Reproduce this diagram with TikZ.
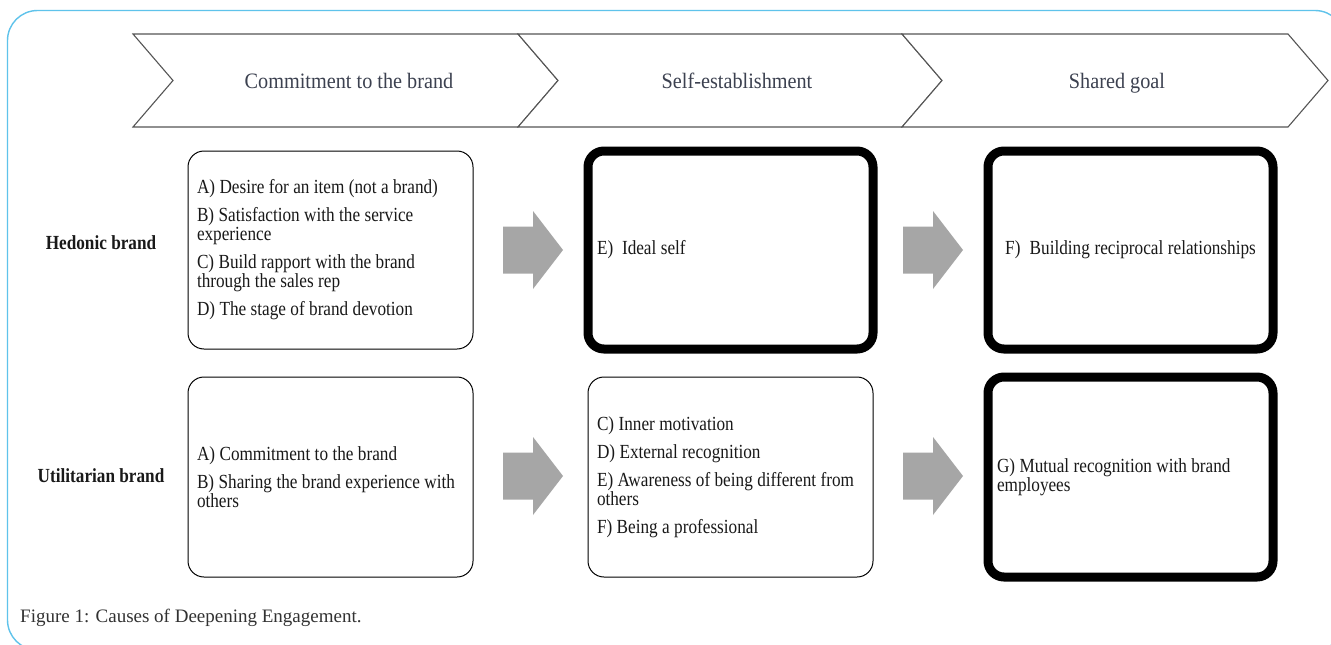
\documentclass[tikz,border=0pt]{standalone}
\usepackage{fontspec}
\setmainfont{Liberation Serif}
\newfontfamily\bxf[FakeStretch=0.86]{Liberation Serif}
\newfontfamily\chf[FakeStretch=0.92]{Liberation Serif}
\newcommand\boxtxt{\bxf\fontsize{20}{19}\selectfont\lineskiplimit=-100pt\relax}
\newcommand\tightsp{\spaceskip=4.4pt plus 1pt minus 0.5pt\xspaceskip=4.4pt plus 1pt minus 0.5pt\relax}
\newcommand\labtxt{\bxf\bfseries\fontsize{20}{24}\selectfont}
\newcommand\chevtxt{\chf\fontsize{22}{26}\selectfont}
\newcommand\captxt{\fontsize{19}{23}\selectfont}
\definecolor{framecol}{RGB}{95,195,235}
\definecolor{chevline}{RGB}{85,85,85}
\definecolor{chevtextcol}{RGB}{60,65,80}
\definecolor{boxtextcol}{RGB}{25,25,25}
\definecolor{arrowgray}{RGB}{166,166,166}
\definecolor{capcol}{RGB}{50,50,50}
\begin{document}
\begin{tikzpicture}[x=1pt,y=-1pt,
  thinbox/.style={draw=black, line width=1pt, rounded corners=16pt,
    minimum width=285pt, inner xsep=9pt, inner ysep=0pt,
    text width=267pt, align=left, font=\boxtxt, text=boxtextcol,
    execute at begin node=\tightsp},
  thickbox/.style={thinbox, line width=9pt},
  chevshape/.style={draw=chevline, line width=1.1pt, fill=white, line join=miter},
  chevlabel/.style={anchor=base, font=\chevtxt, text=chevtextcol, inner sep=0pt},
  rowlab/.style={font=\labtxt, text=boxtextcol, inner sep=0pt},
  blockarrow/.style={fill=arrowgray, draw=none}]
\useasboundingbox (0,0) rectangle (1331,645);
\fill[white] (0,0) rectangle (1331,645);
% outer frame
\begin{scope}
  \clip (0,0) rectangle (1331,645);
  \draw[framecol, line width=1.4pt, rounded corners=30pt] (7.5,10.5) rectangle (1345,650);
\end{scope}
% chevrons
\foreach \l/\r in {133/518, 518/902, 902/1288}
  \draw[chevshape] (\l,34) -- (\r,34) -- (\r+40,80.5) -- (\r,127) -- (\l,127) -- (\l+40,80.5) -- cycle;
\node[chevlabel] (c1) at (349,88) {Commitment to the brand};
\node[chevlabel] (c2) at (737,88) {Self-establishment};
\node[chevlabel] (c3) at (1117,88) {Shared goal};
% row labels
\node[rowlab] (lh) at (101,243) {Hedonic brand};
\node[rowlab] (lu) at (101,476) {Utilitarian brand};
% row 1
\node[thinbox, minimum height=198pt] (h1) at (330.5,250)
  {A) Desire for an item (not a brand)\\[9pt]
   B) Satisfaction with the service\\ experience\\[9pt]
   C) Build rapport with the brand\\ through the sales rep\\[9pt]
   D) The stage of brand devotion};
\node[thickbox, minimum height=198pt] (h2) at (730.5,250) {E)\ \ Ideal self};
\node[thickbox, minimum height=198pt, align=center] (h3) at (1130.5,250) {F)\ \ Building reciprocal relationships};
% row 2
\node[thinbox, minimum height=200pt] (u1) at (330.5,477)
  {A) Commitment to the brand\\[9pt]
   B) Sharing the brand experience with\\ others};
\node[thinbox, minimum height=200pt] (u2) at (730.5,477)
  {C) Inner motivation\\[9pt]
   D) External recognition\\[9pt]
   E) Awareness of being different from\\ others\\[9pt]
   F) Being a professional};
\node[thickbox, minimum height=200pt] (u3) at (1130.5,477)
  {G) Mutual recognition with brand\\ employees};
% block arrows between boxes
\foreach \nm/\px/\py in {a1/533/250, a2/933/250, a3/533/476, a4/933/476}{
  \coordinate (\nm) at (\px,\py);
  \fill[blockarrow, shift={(\nm)}] (-30,-23.5) -- (0,-23.5) -- (0,-39) -- (30,0) -- (0,39) -- (0,23.5) -- (-30,23.5) -- cycle;
}
% caption
\node[anchor=base west, font=\captxt, text=capcol, inner sep=0pt] (cap) at (20,622) {Figure 1: Causes of Deepening Engagement.};
\end{tikzpicture}
\end{document}
